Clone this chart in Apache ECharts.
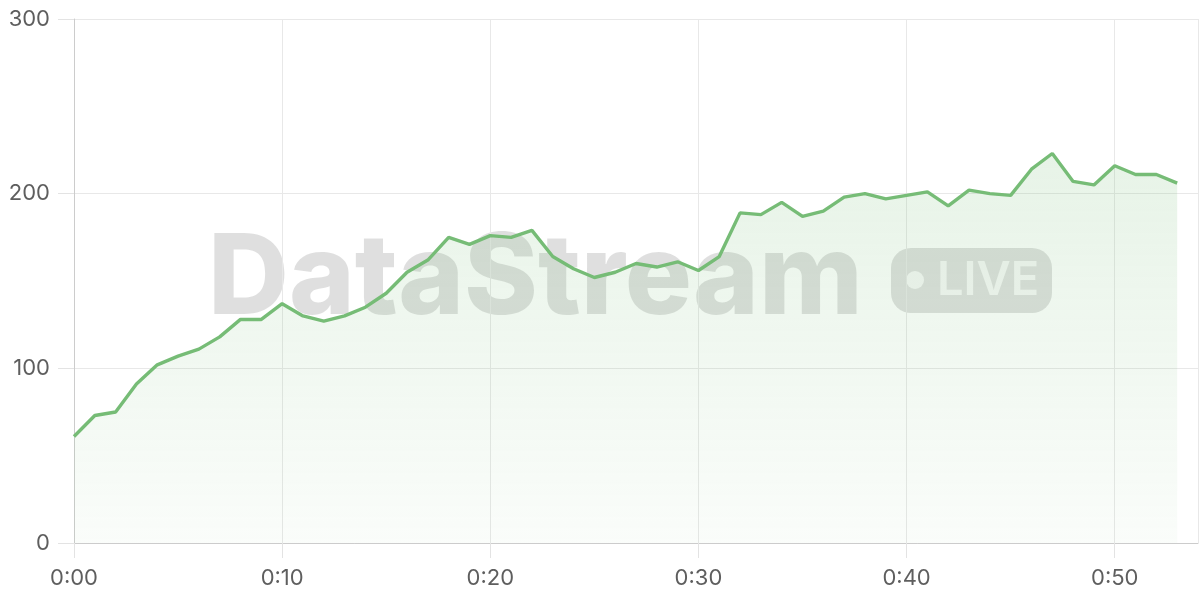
<!DOCTYPE html>
<html>
<head>
<meta charset="utf-8">
<script src="https://cdn.jsdelivr.net/npm/echarts@6/dist/echarts.min.js"></script>
<style>
html,body{margin:0;padding:0;background:#fff;}
#chart{width:1200px;height:600px;}
</style>
</head>
<body>
<div id="chart"></div>
<script>
var minutes = [];
for (var m = 0; m <= 53; m++) minutes.push(m);
var values = [61,73,75,91,102,107,111,118,128,128,137,130,127,130,135,143,155,162,175,171,
              176,175,179,164,157,152,155,160,158,161,156,164,189,188,195,187,190,198,200,197,
              199,201,193,202,200,199,214,223,207,205,216,211,211,206];
var yTicks = [0,100,200,300];
var watermarkText = 'DataStream';
var badgeText = 'LIVE';

var seriesData = minutes.map(function(mm, i){ return [mm, values[i]]; });

var chart = echarts.init(document.getElementById('chart'));
chart.setOption({
  animation: false,
  grid: { left: 74, right: 2, top: 19, bottom: 57 },
  graphic: [
    {
      type: 'group',
      left: 208, top: 224, z: -10, silent: true,
      children: [
        { type: 'text', left: 0, top: 0,
          style: { text: watermarkText, font: '800 112px Inter', fill: 'rgba(0,0,0,0.125)' } },
        { type: 'rect', shape: { x: 683, y: 24, width: 161, height: 65, r: 20 },
          style: { fill: 'rgba(0,0,0,0.125)' } },
        { type: 'circle', shape: { cx: 707, cy: 56, r: 9 },
          style: { fill: 'rgba(255,255,255,0.75)' } },
        { type: 'text', x: 729, y: 57,
          style: { text: badgeText, font: '600 47px Inter', fill: 'rgba(255,255,255,0.75)', textVerticalAlign: 'middle' } }
      ]
    }
  ],
  xAxis: {
    type: 'value', min: 0, max: 54, interval: 10,
    axisLine: { show: true, lineStyle: { color: '#cccccc', width: 1 } },
    axisTick: { show: true, length: 15, lineStyle: { color: '#e3e3e3' } },
    axisLabel: { margin: 24, fontSize: 22, fontFamily: 'Inter', color: '#5e5e5e',
      formatter: function(v){ return '0:' + (v < 10 ? '0' + v : v); },
      showMaxLabel: false },
    splitLine: { show: true, lineStyle: { color: '#e8e8e8' } }
  },
  yAxis: {
    type: 'value', min: yTicks[0], max: yTicks[yTicks.length-1], interval: 100,
    axisLine: { show: true, lineStyle: { color: '#cccccc' } },
    axisTick: { show: true, length: 16, lineStyle: { color: '#e3e3e3' } },
    axisLabel: { margin: 24, fontSize: 22, fontFamily: 'Inter', color: '#5e5e5e' },
    splitLine: { show: true, lineStyle: { color: '#e8e8e8' } }
  },
  series: [{
    type: 'line',
    data: seriesData,
    showSymbol: false,
    symbol: 'none',
    lineStyle: { color: '#76bc76', width: 3.4 },
    areaStyle: {
      color: new echarts.graphic.LinearGradient(0, 0, 0, 1, [
        { offset: 0, color: 'rgba(118,188,118,0.25)' },
        { offset: 1, color: 'rgba(118,188,118,0.05)' }
      ])
    }
  }]
});
</script>
</body>
</html>
